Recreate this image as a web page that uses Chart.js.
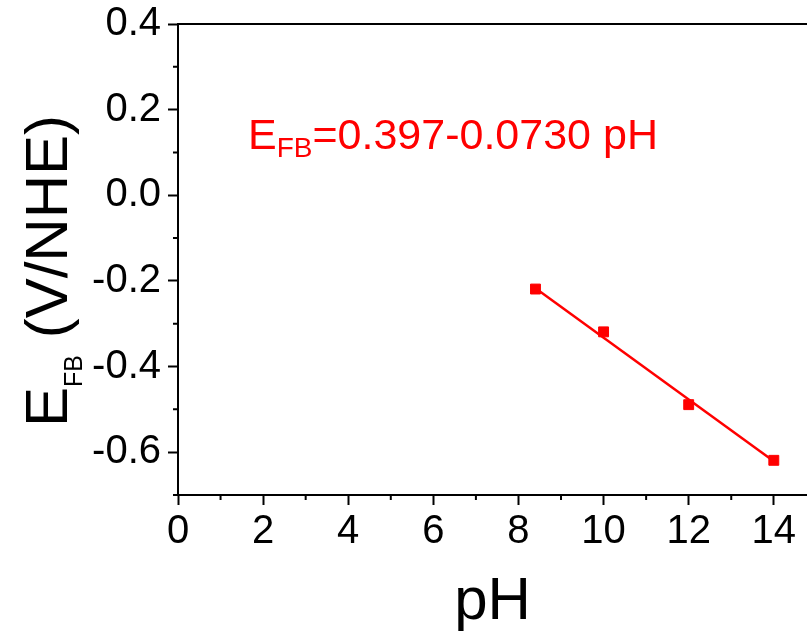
<!DOCTYPE html>
<html>
<head>
<meta charset="utf-8">
<script src="https://cdn.jsdelivr.net/npm/chart.js@4"></script>
<style>
  html, body { margin: 0; padding: 0; background: #fff; }
</style>
</head>
<body>
<canvas id="efbChart" width="807" height="634"></canvas>
<script>
// measured flat band potentials vs pH
var phValues = [8.4, 10, 12, 14];
var efbValues = [-0.219, -0.319, -0.489, -0.619];

// linear fit E_FB = 0.397 - 0.0730 pH, drawn between first and last point
var fitPh = [8.4, 14];
var fitEfb = [-0.217, -0.621];

var xTicks = [0, 2, 4, 6, 8, 10, 12, 14];
var xMinorTicks = [1, 3, 5, 7, 9, 11, 13];
var yTicks = [-0.6, -0.4, -0.2, 0.0, 0.2, 0.4];
var yMinorTicks = [-0.7, -0.5, -0.3, -0.1, 0.1, 0.3];

var FONT = '"Liberation Sans", Arial, sans-serif';
var RED = '#ff0000';

function toPoints(xs, ys) {
  return xs.map(function(x, i) { return { x: x, y: ys[i] }; });
}

// draws top frame line, short minor ticks, the y title and the fit equation
var extrasPlugin = {
  id: 'extras',
  afterDraw: function(chart) {
    var ctx = chart.ctx;
    var area = chart.chartArea;
    var xs = chart.scales.x;
    var ys = chart.scales.y;
    ctx.save();
    ctx.strokeStyle = '#000';
    ctx.lineWidth = 2;
    ctx.beginPath();
    ctx.moveTo(area.left - 1, area.top);
    ctx.lineTo(area.right, area.top);
    xMinorTicks.forEach(function(v) {
      var px = xs.getPixelForValue(v);
      ctx.moveTo(px, area.bottom);
      ctx.lineTo(px, area.bottom + 5);
    });
    yMinorTicks.forEach(function(v) {
      var py = ys.getPixelForValue(v);
      ctx.moveTo(area.left, py);
      ctx.lineTo(area.left - 5, py);
    });
    ctx.stroke();

    // y axis title, rotated
    ctx.fillStyle = '#000';
    ctx.textBaseline = 'alphabetic';
    var mainFont = '60px ' + FONT;
    var subFont = '25px ' + FONT;
    ctx.font = mainFont;
    var wE = ctx.measureText('E').width;
    var wRest = ctx.measureText(' (V/NHE)').width;
    ctx.font = subFont;
    var wSub = ctx.measureText('FB').width;
    var total = wE + wSub + wRest;
    ctx.translate(67, 271);
    ctx.rotate(-Math.PI / 2);
    var sx = -total / 2;
    ctx.font = mainFont;
    ctx.fillText('E', sx, 0);
    ctx.font = subFont;
    ctx.fillText('FB', sx + wE, 15);
    ctx.font = mainFont;
    ctx.fillText(' (V/NHE)', sx + wE + wSub, 0);
    ctx.setTransform(1, 0, 0, 1, 0, 0);

    // fit equation
    ctx.fillStyle = RED;
    var eqX = area.left + 70;
    var eqY = area.top + 125;
    ctx.font = '43px ' + FONT;
    ctx.fillText('E', eqX, eqY);
    var eW = ctx.measureText('E').width;
    ctx.font = '28px ' + FONT;
    ctx.fillText('FB', eqX + eW, eqY + 8);
    var fbW = ctx.measureText('FB').width;
    ctx.font = '43px ' + FONT;
    ctx.fillText('=0.397-0.0730 pH', eqX + eW + fbW, eqY);
    ctx.restore();
  }
};

new Chart(document.getElementById('efbChart'), {
  type: 'scatter',
  data: {
    datasets: [{
      label: 'fit',
      data: toPoints(fitPh, fitEfb),
      showLine: true,
      borderColor: RED,
      borderWidth: 2.5,
      pointRadius: 0,
      order: 2
    }, {
      label: 'E_FB',
      data: toPoints(phValues, efbValues),
      pointStyle: 'rect',
      pointRadius: 7,
      pointBackgroundColor: RED,
      pointBorderColor: RED,
      pointBorderWidth: 1,
      order: 1
    }]
  },
  options: {
    responsive: false,
    animation: false,
    layout: {
      autoPadding: false,
      padding: { top: 24, right: 0, left: 0, bottom: 0 }
    },
    plugins: {
      legend: { display: false },
      tooltip: { enabled: false }
    },
    scales: {
      x: {
        type: 'linear',
        min: 0,
        max: 14.78,
        afterBuildTicks: function(axis) {
          axis.ticks = xTicks.map(function(v) { return { value: v }; });
        },
        afterFit: function(axis) {
          axis.height = 139;
          axis.paddingLeft = 0;
          axis.paddingRight = 0;
        },
        ticks: {
          color: '#000',
          font: { family: FONT, size: 40 },
          padding: 3,
          maxRotation: 0,
          autoSkip: false
        },
        grid: {
          drawOnChartArea: false,
          tickLength: 10,
          tickWidth: 2,
          tickColor: '#000'
        },
        border: { color: '#000', width: 2 },
        title: {
          display: true,
          text: 'pH',
          color: '#000',
          font: { family: FONT, size: 60, lineHeight: 1 },
          padding: { top: 0, bottom: 2 }
        }
      },
      y: {
        type: 'linear',
        min: -0.7,
        max: 0.4,
        afterBuildTicks: function(axis) {
          axis.ticks = yTicks.map(function(v) { return { value: v }; });
        },
        afterFit: function(axis) {
          axis.width = 178;
          axis.paddingTop = 0;
          axis.paddingBottom = 0;
        },
        ticks: {
          color: '#000',
          font: { family: FONT, size: 40 },
          padding: 7,
          autoSkip: false,
          callback: function(v) { return Number(v).toFixed(1); }
        },
        grid: {
          drawOnChartArea: false,
          tickLength: 10,
          tickWidth: 2,
          tickColor: '#000'
        },
        border: { color: '#000', width: 2 }
      }
    }
  },
  plugins: [extrasPlugin]
});
</script>
</body>
</html>
